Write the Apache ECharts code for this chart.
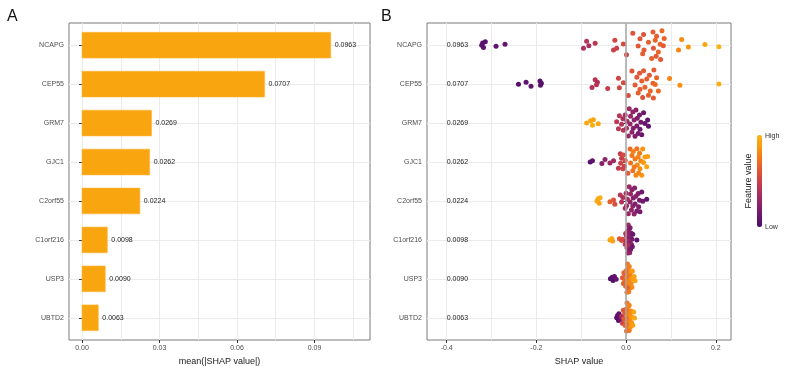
<!DOCTYPE html>
<html><head><meta charset="utf-8">
<script src="https://cdn.jsdelivr.net/npm/echarts@6/dist/echarts.min.js"></script>
<style>html,body{margin:0;padding:0;background:#fff}#c{width:785px;height:366px}</style>
</head><body><div id="c"></div>
<script>
const features = ['NCAPG','CEP55','GRM7','GJC1','C2orf55','C1orf216','USP3','UBTD2'];
const meanAbsShap = [0.0963,0.0707,0.0269,0.0262,0.0224,0.0098,0.0090,0.0063];
const rowPositions = [1,2,3,4,5,6,7,8];
const xTicksA = [0,0.03,0.06,0.09];
const xGridA = [0,0.015,0.03,0.045,0.06,0.075,0.09,0.105];
const xTicksB = [-0.4,-0.2,0,0.2];
const xGridB = [-0.4,-0.3,-0.2,-0.1,0,0.1,0.2];

const shapNCAPG = [-0.322,-0.318,-0.314,-0.320,-0.290,-0.270,-0.095,-0.088,-0.083,-0.069,-0.028,-0.025,-0.021,-0.006,0.001,0.015,0.027,0.031,0.037,0.040,0.039,0.050,0.057,0.061,0.060,0.065,0.067,0.072,0.068,0.076,0.080,0.083,0.085,0.077,0.117,0.124,0.139,0.176,0.207];
const featNCAPG = [0.05,0.07,0.04,0.06,0.08,0.10,0.38,0.41,0.36,0.43,0.50,0.52,0.49,0.55,0.54,0.60,0.62,0.61,0.64,0.63,0.60,0.65,0.66,0.62,0.64,0.67,0.63,0.68,0.65,0.66,0.69,0.64,0.67,0.62,0.80,0.83,0.86,0.93,0.98];
const shapCEP55 = [-0.240,-0.223,-0.212,-0.192,-0.191,-0.189,-0.076,-0.069,-0.064,-0.066,-0.041,-0.017,-0.015,-0.006,0.005,0.013,0.020,0.024,0.027,0.030,0.031,0.035,0.037,0.039,0.042,0.046,0.050,0.052,0.054,0.060,0.061,0.065,0.068,0.072,0.062,0.097,0.120,0.207];
const featCEP55 = [0.05,0.07,0.09,0.06,0.08,0.04,0.40,0.42,0.38,0.41,0.48,0.52,0.53,0.55,0.57,0.60,0.63,0.61,0.65,0.62,0.64,0.66,0.60,0.63,0.67,0.64,0.65,0.62,0.68,0.66,0.63,0.69,0.67,0.70,0.64,0.80,0.84,0.97];
const shapGRM7 = [-0.088,-0.079,-0.075,-0.073,-0.062,-0.021,-0.017,-0.015,-0.010,-0.007,-0.006,-0.002,0.001,0.002,0.005,0.007,0.009,0.010,0.013,0.015,0.016,0.018,0.020,0.022,0.024,0.025,0.027,0.030,0.031,0.033,0.035,0.039,0.042,0.048,0.050];
const featGRM7 = [0.95,0.93,0.97,0.92,0.94,0.45,0.43,0.42,0.40,0.38,0.41,0.36,0.35,0.33,0.30,0.32,0.28,0.30,0.25,0.27,0.22,0.26,0.20,0.24,0.18,0.21,0.17,0.19,0.14,0.16,0.12,0.13,0.10,0.08,0.09];
const shapGJC1 = [-0.080,-0.075,-0.054,-0.047,-0.036,-0.028,-0.017,-0.013,-0.012,-0.010,-0.007,-0.006,-0.004,-0.002,0.009,0.010,0.013,0.015,0.016,0.020,0.022,0.024,0.025,0.027,0.030,0.031,0.033,0.035,0.039,0.042,0.046,0.048,0.004,0.018,0.028,0.037];
const featGJC1 = [0.05,0.08,0.22,0.26,0.30,0.33,0.45,0.48,0.50,0.47,0.52,0.55,0.50,0.56,0.70,0.72,0.75,0.73,0.78,0.76,0.80,0.74,0.82,0.79,0.77,0.84,0.81,0.86,0.88,0.90,0.92,0.89,0.62,0.76,0.80,0.85];
const shapC2orf55 = [-0.065,-0.062,-0.058,-0.060,-0.036,-0.028,-0.025,-0.013,-0.010,-0.007,-0.002,0.000,0.001,0.005,0.007,0.009,0.010,0.013,0.015,0.016,0.018,0.020,0.022,0.024,0.027,0.030,0.031,0.035,0.037,0.046,0.003,0.012,0.019,0.028];
const featC2orf55 = [0.95,0.93,0.97,0.91,0.65,0.60,0.57,0.42,0.40,0.38,0.36,0.35,0.33,0.30,0.32,0.28,0.30,0.25,0.27,0.22,0.26,0.20,0.24,0.18,0.21,0.17,0.19,0.14,0.16,0.08,0.34,0.26,0.23,0.20];
const shapC1orf216 = [-0.036,-0.032,-0.030,-0.015,-0.010,-0.008,-0.002,-0.001,0.000,0.001,0.002,0.003,0.004,0.004,0.005,0.006,0.006,0.007,0.007,0.008,0.008,0.009,0.010,0.010,0.011,0.012,0.013,0.014,0.015,0.005,0.009,0.003,0.024];
const featC1orf216 = [0.93,0.96,0.91,0.62,0.58,0.55,0.45,0.42,0.40,0.38,0.36,0.35,0.33,0.30,0.32,0.28,0.30,0.25,0.27,0.22,0.26,0.20,0.24,0.18,0.21,0.17,0.15,0.14,0.12,0.31,0.23,0.37,0.08];
const shapUSP3 = [-0.035,-0.031,-0.029,-0.026,-0.022,-0.008,-0.006,-0.005,-0.003,-0.002,-0.001,0.000,0.001,0.001,0.002,0.003,0.003,0.004,0.005,0.005,0.006,0.007,0.007,0.008,0.009,0.010,0.011,0.012,0.013,0.014,0.016,0.018,0.020,0.004,0.006];
const featUSP3 = [0.04,0.06,0.03,0.08,0.10,0.62,0.65,0.66,0.68,0.64,0.70,0.72,0.69,0.74,0.71,0.73,0.76,0.70,0.75,0.78,0.72,0.77,0.80,0.74,0.79,0.82,0.81,0.85,0.83,0.87,0.88,0.90,0.92,0.66,0.76];
const shapUBTD2 = [-0.021,-0.019,-0.017,-0.016,-0.013,-0.010,-0.008,-0.006,-0.005,-0.003,-0.002,-0.001,0.000,0.001,0.001,0.002,0.003,0.003,0.004,0.005,0.005,0.006,0.007,0.007,0.008,0.009,0.010,0.011,0.012,0.013,0.015,0.017,0.019];
const featUBTD2 = [0.04,0.07,0.05,0.09,0.12,0.38,0.50,0.60,0.63,0.62,0.66,0.64,0.68,0.70,0.67,0.72,0.69,0.74,0.71,0.76,0.73,0.78,0.75,0.80,0.77,0.82,0.84,0.81,0.86,0.88,0.90,0.92,0.94];

const shapRows = [shapNCAPG,shapCEP55,shapGRM7,shapGJC1,shapC2orf55,shapC1orf216,shapUSP3,shapUBTD2];
const featRows = [featNCAPG,featCEP55,featGRM7,featGJC1,featC2orf55,featC1orf216,featUSP3,featUBTD2];

// quasirandom (van der Corput) beeswarm offsets scaled by kernel density
function vdc(n){ let v=0, d=1; while(n>0){ d*=2; v+=(n%2)/d; n=Math.floor(n/2);} return v; }
function quant(s,p){ const h=(s.length-1)*p, lo=Math.floor(h); const hi=Math.min(lo+1,s.length-1); return s[lo]+(h-lo)*(s[hi]-s[lo]); }
function swarmOffsets(xs, width, adjust){
  const n=xs.length; const s=[...xs].sort((a,b)=>a-b);
  const mean=xs.reduce((a,b)=>a+b,0)/n;
  const sd=Math.sqrt(xs.reduce((a,b)=>a+(b-mean)*(b-mean),0)/(n-1));
  const iqr=quant(s,0.75)-quant(s,0.25);
  let lo=Math.min(sd, iqr/1.34); if(!(lo>0)) lo=sd||1;
  const bw=0.9*lo*Math.pow(n,-0.2)*adjust;
  const dens=xs.map(x=>xs.reduce((a,xi)=>a+Math.exp(-0.5*Math.pow((x-xi)/bw,2)),0));
  const mx=Math.max(...dens);
  const order=xs.map((x,i)=>i).sort((a,b)=>(xs[a]-xs[b])||(a-b));
  const rank=new Array(n); order.forEach((idx,r)=>{rank[idx]=r+1;});
  return xs.map((x,i)=>(vdc(rank[i])-0.5)*2*width*dens[i]/mx);
}

const beeData=[];
shapRows.forEach((xs,r)=>{
  const off=swarmOffsets(xs,0.42,1);
  xs.forEach((x,i)=>beeData.push([x, rowPositions[r]+off[i], featRows[r][i]]));
});

const FONT='"Liberation Sans", Arial, Helvetica, sans-serif';
const tickCol='#4d4d4d', gridCol='#ebebeb';

function yAxisCfg(gi){
  return {type:'value', gridIndex:gi, min:0.43, max:8.57, inverse:true,
    axisLine:{show:false},
    axisTick:{show:true, customValues:rowPositions, length:3, lineStyle:{color:'#333', width:1}},
    axisLabel:{customValues:rowPositions, formatter:v=>features[Math.round(v)-1], fontSize:7, color:tickCol, fontFamily:FONT, margin:5},
    splitLine:{show:true, lineStyle:{color:gridCol, width:1}}};
}

const chart=echarts.init(document.getElementById('c'),null,{renderer:'canvas'});
chart.setOption({
  animation:false,
  backgroundColor:'#ffffff',
  grid:[
    {left:69, top:23, width:301, height:317, show:true, borderColor:'#7a7a7a', borderWidth:1, backgroundColor:'transparent', outerBoundsMode:'none', containLabel:false},
    {left:427, top:23, width:304, height:317, show:true, borderColor:'#7a7a7a', borderWidth:1, backgroundColor:'transparent', outerBoundsMode:'none', containLabel:false}
  ],
  xAxis:[
    {type:'value', gridIndex:0, min:-0.00504, max:0.1115, position:'bottom',
      axisLine:{show:false},
      axisTick:{show:true, customValues:xTicksA, length:3, lineStyle:{color:'#333'}},
      axisLabel:{customValues:xTicksA, formatter:v=>v.toFixed(2), fontSize:7, color:tickCol, fontFamily:FONT, margin:5},
      splitLine:{show:false},
      name:'mean(|SHAP value|)', nameLocation:'middle', nameGap:17,
      nameTextStyle:{fontSize:9, color:'#1a1a1a', fontFamily:FONT}},
    {type:'value', gridIndex:0, min:-0.00504, max:0.1115, position:'top',
      axisLine:{show:false}, axisTick:{show:false, customValues:xGridA},
      axisLabel:{show:false, customValues:xGridA},
      splitLine:{show:true, lineStyle:{color:gridCol, width:1}}},
    {type:'value', gridIndex:1, min:-0.444, max:0.234, position:'bottom',
      axisLine:{show:false},
      axisTick:{show:true, customValues:xTicksB, length:3, lineStyle:{color:'#333'}},
      axisLabel:{customValues:xTicksB, formatter:v=>v.toFixed(1), fontSize:7, color:tickCol, fontFamily:FONT, margin:5},
      splitLine:{show:false},
      name:'SHAP value', nameLocation:'middle', nameGap:17,
      nameTextStyle:{fontSize:9, color:'#1a1a1a', fontFamily:FONT}},
    {type:'value', gridIndex:1, min:-0.444, max:0.234, position:'top',
      axisLine:{show:false}, axisTick:{show:false, customValues:xGridB},
      axisLabel:{show:false, customValues:xGridB},
      splitLine:{show:true, lineStyle:{color:gridCol, width:1}}}
  ],
  yAxis:[yAxisCfg(0), yAxisCfg(1)],
  visualMap:[{type:'continuous', min:0, max:1, dimension:2, seriesIndex:3,
    inRange:{color:['#4a0c6b','#6b176e','#8c2369','#ad305c','#cb4149','#e35933','#f3771a','#fa9a0d','#fbb61a']},
    orient:'vertical', left:757, top:135, itemWidth:5, itemHeight:92, padding:0,
    calculable:false, hoverLink:false, text:null, show:true}],
  graphic:[
    {type:'text', left:7, top:9, style:{text:'A', font:'16px '+FONT, fill:'#111'}},
    {type:'text', left:381, top:9, style:{text:'B', font:'16px '+FONT, fill:'#111'}},
    {type:'text', left:765, top:133, style:{text:'High', font:'7px '+FONT, fill:'#333'}},
    {type:'text', left:765, top:224, style:{text:'Low', font:'7px '+FONT, fill:'#333'}},
    {type:'text', x:749, y:181, rotation:Math.PI/2, style:{text:'Feature value', font:'9px '+FONT, fill:'#1a1a1a', align:'center', verticalAlign:'middle'}}
  ],
  series:[
    {type:'custom', xAxisIndex:0, yAxisIndex:0, z:3,
      data:meanAbsShap.map((v,i)=>[v,rowPositions[i]]),
      renderItem:(params,api)=>{
        const v=api.value(0), y=api.value(1);
        const p0=api.coord([0,y]), p1=api.coord([v,y]);
        const h=api.size([0,0.66])[1];
        return {type:'group', children:[
          {type:'rect', shape:{x:p0[0], y:p0[1]-h/2, width:p1[0]-p0[0], height:h}, style:{fill:'#f9a50f', stroke:'#fbb53a', lineWidth:0.6}},
          {type:'text', x:p1[0]+4, y:p1[1], style:{text:v.toFixed(4), fill:'#222', font:'7px '+FONT, verticalAlign:'middle', align:'left'}}
        ]};
      }},
    {type:'custom', xAxisIndex:2, yAxisIndex:1, z:3,
      data:meanAbsShap.map((v,i)=>[-0.4,rowPositions[i],v]),
      renderItem:(params,api)=>{
        const p=api.coord([api.value(0),api.value(1)]);
        return {type:'text', x:p[0], y:p[1], style:{text:api.value(2).toFixed(4), fill:'#222', font:'7px '+FONT, verticalAlign:'middle', align:'left'}};
      }},
    {type:'line', xAxisIndex:2, yAxisIndex:1, z:1, data:[], symbol:'none',
      markLine:{silent:true, symbol:'none', label:{show:false}, lineStyle:{color:'#a6a6a6', width:1.5, type:'solid'}, data:[{xAxis:0}]}},
    {type:'scatter', xAxisIndex:2, yAxisIndex:1, z:4, symbolSize:5, data:beeData,
      itemStyle:{opacity:1}}
  ]
});
</script></body></html>
